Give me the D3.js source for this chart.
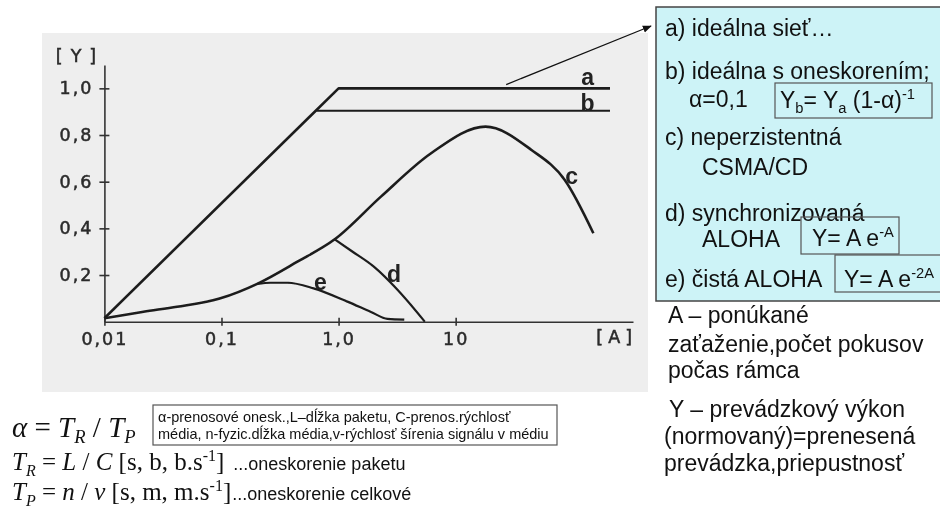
<!DOCTYPE html>
<html><head><meta charset="utf-8">
<script src="https://cdn.jsdelivr.net/npm/d3@7"></script>
<style>
html,body{margin:0;padding:0;background:#fff;}
svg{display:block;}
</style></head><body>
<svg id="fig" width="940" height="518"></svg>
<script>
// Normalised throughput Y versus offered load A for several channel access methods
const xTickValues = [0.01, 0.1, 1, 10];
const xTickLabels = ["0,01", "0,1", "1,0", "10"];
const yTickValues = [0.2, 0.4, 0.6, 0.8, 1.0];
const yTickLabels = ["0,2", "0,4", "0,6", "0,8", "1,0"];

// [A, Y] pairs of each curve
const seriesA = [[0.01, 0.015], [1, 1], [208, 1]];
const seriesB = [[0.645, 0.904], [208, 0.904]];
const seriesC = [[0.01, 0.015], [0.0216, 0.043], [0.0417, 0.064], [0.098, 0.10], [0.202, 0.162],
                 [0.445, 0.257], [0.927, 0.353], [2.30, 0.536], [6.17, 0.722], [18, 0.836],
                 [44.4, 0.736], [85.5, 0.607], [150, 0.379]];
const seriesD = [[0.927, 0.353], [1.3, 0.302], [2.0, 0.236], [3.2, 0.136], [5.45, 0.0]];
const seriesE = [[0.202, 0.162], [0.262, 0.167], [0.367, 0.167], [0.612, 0.143], [1.19, 0.086],
                 [1.89, 0.042], [2.62, 0.012], [3.64, 0.009]];
const curveNames = ["a", "b", "c", "d", "e"];
// where each curve's letter sits, in [A, Y]
const curveLabelAt = [[134, 1.015], [134, 0.905], [98, 0.59], [2.97, 0.172], [0.70, 0.136]];

const svg = d3.select("#fig");

const defs = svg.append("defs");
defs.append("filter").attr("id", "soft")
  .append("feGaussianBlur").attr("stdDeviation", 0.45);
defs.append("marker").attr("id", "tip").attr("viewBox", "0 0 10 10")
  .attr("refX", 9).attr("refY", 5).attr("markerWidth", 9).attr("markerHeight", 9)
  .attr("orient", "auto").attr("markerUnits", "userSpaceOnUse")
  .append("path").attr("d", "M0,1 L10,5 L0,9 Z").attr("fill", "#111");

// scanned-paper backdrop behind the graph
svg.append("rect").attr("x", 42).attr("y", 33).attr("width", 606).attr("height", 359)
  .attr("fill", "#eeeeee");

const x = d3.scaleLog().domain([0.01, 327]).range([104.4, 633]);
const y = d3.scaleLinear().domain([0, 1.1]).range([321.7, 65]);

const plot = svg.append("g").attr("filter", "url(#soft)");
const tickFont = "'DejaVu Sans', sans-serif";

const yAxis = plot.append("g").attr("transform", `translate(${x(0.01)},0)`)
  .call(d3.axisLeft(y).tickValues(yTickValues).tickFormat((d, i) => yTickLabels[i])
    .tickSize(5).tickSizeOuter(0).tickPadding(6));
yAxis.selectAll(".tick line").attr("x1", 5);

const xAxis = plot.append("g").attr("transform", `translate(0,${y(0)})`)
  .call(d3.axisBottom(x).tickValues(xTickValues).tickFormat((d, i) => xTickLabels[i])
    .tickSize(4).tickSizeOuter(0).tickPadding(7));
xAxis.selectAll(".tick line").attr("y1", -4);

[yAxis, xAxis].forEach(g => {
  g.select(".domain").attr("stroke", "#333").attr("stroke-width", 1.6);
  g.selectAll(".tick line").attr("stroke", "#333").attr("stroke-width", 1.6);
  g.selectAll(".tick text").attr("font-family", tickFont).attr("font-size", 17.5)
    .attr("letter-spacing", "2px").attr("fill", "#2a2a2a")
    .attr("stroke", "#2a2a2a").attr("stroke-width", 0.5);
});

const unitStyle = t => t.attr("font-family", tickFont).attr("font-size", 17.5)
  .attr("fill", "#2a2a2a").attr("stroke", "#2a2a2a").attr("stroke-width", 0.5);
plot.append("text").attr("x", 80).attr("y", 62).attr("text-anchor", "middle")
  .attr("letter-spacing", "8px").call(unitStyle).text("[Y]");
plot.append("text").attr("x", 637).attr("y", 343).attr("text-anchor", "end")
  .attr("letter-spacing", "5px").call(unitStyle).text("[A]");

const straight = d3.line().x(d => x(d[0])).y(d => y(d[1]));
const smooth = d3.line().x(d => x(d[0])).y(d => y(d[1])).curve(d3.curveMonotoneX);

const series = [seriesA, seriesB, seriesC, seriesD, seriesE];
series.forEach((s, i) => {
  plot.append("path").datum(s)
    .attr("d", i < 2 ? straight : smooth)
    .attr("fill", "none").attr("stroke", "#1c1c1c")
    .attr("stroke-width", i === 0 || i === 2 ? 2.6 : 2.2)
    .attr("stroke-linejoin", "round");
});

plot.selectAll("text.curve").data(curveNames).join("text").attr("class", "curve")
  .attr("x", (d, i) => x(curveLabelAt[i][0]))
  .attr("y", (d, i) => y(curveLabelAt[i][1]))
  .attr("text-anchor", "middle")
  .attr("font-family", "'Liberation Sans', Arial, sans-serif")
  .attr("font-size", 23).attr("font-weight", "bold").attr("fill", "#222").text(d => d);

// pointer from curve a to the legend panel
svg.append("line").attr("x1", x(27)).attr("y1", y(1.016)).attr("x2", 651).attr("y2", 26)
  .attr("stroke", "#111").attr("stroke-width", 1.2).attr("marker-end", "url(#tip)");

// legend panel
const sans = "'Liberation Sans', Arial, sans-serif";
svg.append("rect").attr("x", 656).attr("y", 7).attr("width", 300).attr("height", 294)
  .attr("fill", "#cdf3f7").attr("stroke", "#444").attr("stroke-width", 1.5);

function writeLine(px, py, parts, size, family) {
  const fs = size || 23;
  const t = svg.append("text").attr("x", px).attr("y", py)
    .attr("font-family", family || sans).attr("font-size", fs).attr("fill", "#111");
  let shift = 0;
  parts.forEach(p => {
    const [txt, kind, style] = typeof p === "string" ? [p, "n", ""] : p;
    const target = kind === "sub" ? fs * 0.22 : kind === "sup" ? -fs * 0.38 : 0;
    const ts = t.append("tspan").attr("dy", target - shift).text(txt);
    shift = target;
    if (kind !== "n") ts.attr("font-size", fs * 0.64);
    if (style === "i") ts.attr("font-style", "italic");
  });
  return t;
}
function frame(x0, y0, x1, y1) {
  svg.append("rect").attr("x", x0).attr("y", y0).attr("width", x1 - x0).attr("height", y1 - y0)
    .attr("fill", "none").attr("stroke", "#555").attr("stroke-width", 1.2);
}
const rightOf = (t, gap) => t.node().getBBox().x + t.node().getBBox().width + gap;

writeLine(665, 36, ["a) ideálna sieť…"]);
writeLine(665, 79, ["b) ideálna s oneskorením;"]);
writeLine(689, 107, ["α=0,1"]);
frame(775, 83, 932, 118);
writeLine(780, 108, ["Y", ["b", "sub"], "= Y", ["a", "sub"], " (1-α)", ["-1", "sup"]]);
writeLine(665, 145, ["c) neperzistentná"]);
writeLine(702, 175, ["CSMA/CD"]);
writeLine(665, 220.5, ["d) synchronizovaná"]);
writeLine(702, 246.5, ["ALOHA"]);
frame(801, 217, 899, 254);
writeLine(812, 246, ["Y= A e", ["-A", "sup"]]);
writeLine(665, 287, ["e) čistá ALOHA"]);
frame(835, 255, 950, 292);
writeLine(844, 287, ["Y= A e", ["-2A", "sup"]]);

// notes under the panel
writeLine(668, 323, ["A – ponúkané"]);
writeLine(668, 352, ["zaťaženie,počet pokusov"]);
writeLine(668, 378, ["počas rámca"]);
writeLine(669, 417, [" Y – prevádzkový  výkon"]);
writeLine(664, 444, ["(normovaný)=prenesená"]);
writeLine(664, 471, ["prevádzka,priepustnosť"]);

// delay definitions
const serif = "'Liberation Serif', 'Times New Roman', serif";
writeLine(12, 437, [["α", "n", "i"], " = ", ["T", "n", "i"], ["R", "sub", "i"], " / ", ["T", "n", "i"], ["P", "sub", "i"]], 29, serif);
frame(153, 405, 557, 445);
writeLine(158, 422, ["α-prenosové onesk.,L–dĺžka paketu, C-prenos.rýchlosť"], 14.5);
writeLine(158, 439, ["média, n-fyzic.dĺžka  média,v-rýchlosť  šírenia signálu v médiu"], 14.5);
const tr = writeLine(12, 470, [["T", "n", "i"], ["R", "sub", "i"], " = ", ["L", "n", "i"], " / ", ["C", "n", "i"], "  [s, b, b.s", ["-1", "sup"], "]"], 25, serif);
writeLine(rightOf(tr, 9), 470, ["...oneskorenie paketu"], 18);
const tp = writeLine(12, 500, [["T", "n", "i"], ["P", "sub", "i"], " = ", ["n", "n", "i"], " / ", ["v", "n", "i"], "  [s, m, m.s", ["-1", "sup"], "]"], 25, serif);
writeLine(rightOf(tp, 1), 500, ["...oneskorenie celkové"], 18);
</script>
</body></html>
